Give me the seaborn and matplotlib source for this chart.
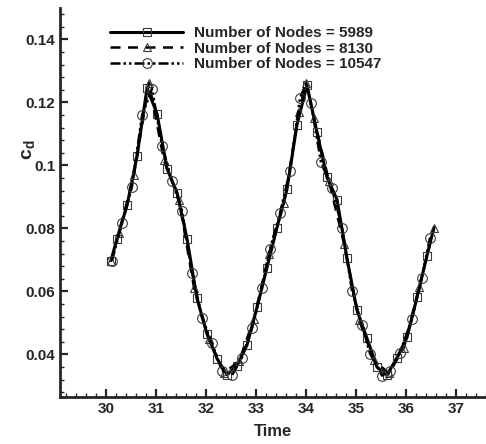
import matplotlib
matplotlib.use("Agg")
import matplotlib.pyplot as plt
from matplotlib.ticker import MultipleLocator, FixedLocator, FuncFormatter
from matplotlib.lines import Line2D
import seaborn as sns
import pandas as pd

# ---- data ----
t_5989 = [30.10, 30.22, 30.42, 30.62, 30.82, 31.02, 31.22, 31.42, 31.62, 31.82,
          32.02, 32.22, 32.42, 32.62, 32.82, 33.02, 33.22, 33.42, 33.62, 33.82,
          34.02, 34.22, 34.42, 34.62, 34.82, 35.02, 35.22, 35.42, 35.62, 35.82,
          36.02, 36.22, 36.42, 36.56]
c_5989 = [0.0698, 0.0768, 0.0873, 0.1029, 0.1245, 0.1165, 0.0990, 0.0914, 0.0768, 0.0578,
          0.0465, 0.0387, 0.0336, 0.0365, 0.0430, 0.0550, 0.0676, 0.0803, 0.0925, 0.1130,
          0.1255, 0.1105, 0.0962, 0.0892, 0.0705, 0.0540, 0.0451, 0.0360, 0.0335, 0.0390,
          0.0454, 0.0581, 0.0714, 0.0803]

t_8130 = [30.10, 30.26, 30.56, 30.86, 31.16, 31.46, 31.76, 32.06, 32.36, 32.66,
          32.96, 33.26, 33.56, 33.86, 34.00, 34.16, 34.46, 34.76, 35.06, 35.36,
          35.66, 35.96, 36.26, 36.56]
c_8130 = [0.0698, 0.0787, 0.0971, 0.1263, 0.1016, 0.0892, 0.0612, 0.0450, 0.0342, 0.0378,
          0.0514, 0.0720, 0.0880, 0.1170, 0.1262, 0.1150, 0.0950, 0.0752, 0.0510, 0.0381,
          0.0340, 0.0422, 0.0613, 0.0803]

t_10547 = [30.12, 30.32, 30.52, 30.72, 30.92, 31.12, 31.32, 31.52, 31.72, 31.92,
           32.12, 32.32, 32.52, 32.72, 32.92, 33.12, 33.28, 33.48, 33.68, 33.88,
           34.00, 34.10, 34.30, 34.52, 34.72, 34.92, 35.12, 35.28, 35.52, 35.68,
           35.88, 36.12, 36.32, 36.48]
c_10547 = [0.0698, 0.0816, 0.0933, 0.1159, 0.1244, 0.1063, 0.0950, 0.0857, 0.0660, 0.0517,
           0.0435, 0.0349, 0.0334, 0.0390, 0.0483, 0.0610, 0.0736, 0.0848, 0.0984, 0.1215,
           0.1258, 0.1197, 0.1010, 0.0927, 0.0803, 0.0603, 0.0492, 0.0403, 0.0333, 0.0349,
           0.0406, 0.0514, 0.0644, 0.0771]

labels = ["Number of Nodes = 5989", "Number of Nodes = 8130", "Number of Nodes = 10547"]
x_ticks = [30, 31, 32, 33, 34, 35, 36, 37]
y_ticks = [0.04, 0.06, 0.08, 0.10, 0.12, 0.14]
y_tick_labels = ["0.04", "0.06", "0.08", "0.1", "0.12", "0.14"]

# ---- style ----
sns.set_style("ticks")
plt.rcParams["font.family"] = ["Liberation Sans", "DejaVu Sans"]
plt.rcParams["font.weight"] = "bold"
plt.rcParams["mathtext.fontset"] = "custom"
plt.rcParams["mathtext.rm"] = "Liberation Sans:bold"
plt.rcParams["mathtext.bf"] = "Liberation Sans:bold"
plt.rcParams["mathtext.it"] = "Liberation Sans:bold"

fig = plt.figure(figsize=(4.86, 4.44), dpi=100)
ax = fig.add_axes([60 / 486, 47 / 444, 426 / 486, 389 / 444])

df_a = pd.DataFrame({"t": t_5989, "c": c_5989})
df_b = pd.DataFrame({"t": t_8130, "c": c_8130})
df_c = pd.DataFrame({"t": t_10547, "c": c_10547})

mk_c = [i for i, tv in enumerate(t_10547) if tv != 34.00]
mk_b = list(range(len(t_8130)))
mk_a = list(range(len(t_5989) - 1))

dash_b = (0, (4, 3))
dash_c = (0, (4, 1.2, 1, 1.2, 1, 1.2))
mec = "#3a3a3a"

common = dict(color="black", errorbar=None, legend=False,
              markerfacecolor="none", markeredgecolor=mec, markeredgewidth=0.8)

sns.lineplot(data=df_a, x="t", y="c", ax=ax, linewidth=2.2, linestyle="-",
             marker="s", markersize=5.5, markevery=mk_a, **common)
sns.lineplot(data=df_b, x="t", y="c", ax=ax, linewidth=1.8, linestyle=dash_b,
             marker="^", markersize=6, markevery=mk_b, **common)
sns.lineplot(data=df_c, x="t", y="c", ax=ax, linewidth=1.8, linestyle=dash_c,
             marker="o", markersize=7, markevery=mk_c, **common)

ax.set_xlim(29.08, 37.6)
ax.set_ylim(0.0265, 0.1500)

ax.xaxis.set_major_locator(FixedLocator(x_ticks))
ax.xaxis.set_minor_locator(MultipleLocator(0.2))
ax.yaxis.set_major_locator(FixedLocator(y_ticks))
ax.set_yticklabels(y_tick_labels)
ax.yaxis.set_minor_locator(MultipleLocator(0.004))
ax.xaxis.set_major_formatter(FuncFormatter(lambda v, p: f"{v:g}"))

for s in ["top", "right"]:
    ax.spines[s].set_visible(False)
for s in ["left", "bottom"]:
    ax.spines[s].set_linewidth(2.0)

ax.tick_params(which="major", direction="in", length=6, width=1.6, labelsize=11)
ax.tick_params(which="minor", direction="in", length=3, width=1.0)
for lbl in ax.get_xticklabels() + ax.get_yticklabels():
    lbl.set_fontweight("bold")

ax.set_xlabel("Time", fontsize=12, fontweight="bold", labelpad=6)
ax.set_ylabel(r"$\mathbf{c}_{\mathbf{d}}$", fontsize=14, fontweight="bold")
ax.yaxis.set_label_coords(-0.055, 0.635)

leg_handles = [
    Line2D([], [], color="black", linewidth=2.2, linestyle="-", marker="s", markersize=5.5,
           markerfacecolor="none", markeredgecolor=mec, markeredgewidth=0.8),
    Line2D([], [], color="black", linewidth=1.8, linestyle=dash_b, marker="^", markersize=6,
           markerfacecolor="none", markeredgecolor=mec, markeredgewidth=0.8),
    Line2D([], [], color="black", linewidth=1.8, linestyle=dash_c, marker="o", markersize=7,
           markerfacecolor="none", markeredgecolor=mec, markeredgewidth=0.8),
]
leg = ax.legend(leg_handles, labels, loc="upper left",
                bbox_to_anchor=(110 / 486, 1 - 26 / 444), bbox_transform=fig.transFigure,
                frameon=False, handlelength=4.8, handletextpad=0.7,
                labelspacing=0.1, borderpad=0, borderaxespad=0, numpoints=1,
                prop={"weight": "bold", "size": 11})

fig.savefig("out.png", dpi=100)
